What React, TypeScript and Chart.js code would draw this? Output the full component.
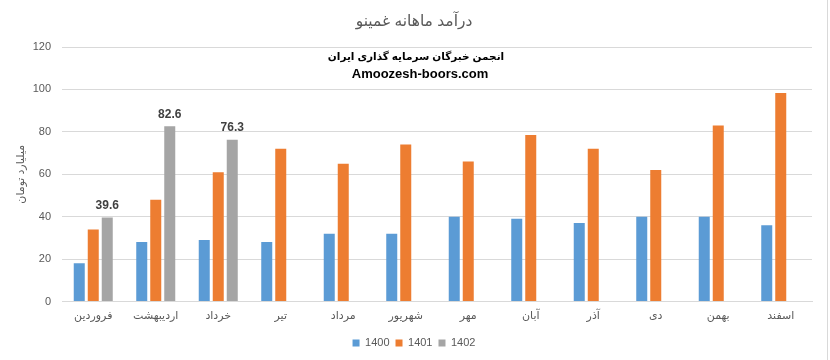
import React, { useEffect, useRef } from "react";
import { Chart, registerables } from "chart.js";

Chart.register(...registerables);

const months = [
  "فروردین",
  "اردیبهشت",
  "خرداد",
  "تیر",
  "مرداد",
  "شهریور",
  "مهر",
  "آبان",
  "آذر",
  "دی",
  "بهمن",
  "اسفند",
];

const values1400 = [18, 28, 29, 28, 32, 32, 40, 39, 37, 40, 40, 36];
const values1401 = [34, 48, 61, 72, 65, 74, 66, 78.5, 72, 62, 83, 98.3];
const values1402: (number | null)[] = [39.6, 82.6, 76.3, null, null, null, null, null, null, null, null, null];

const seriesNames = ["1400", "1401", "1402"];
const chartTitle = "درآمد ماهانه غمینو";
const yAxisTitle = "میلیارد تومان";
const watermarkLine1 = "انجمن خبرگان سرمایه گذاری ایران";
const watermarkLine2 = "Amoozesh-boors.com";

const FONT = '"Liberation Sans", "DejaVu Sans", sans-serif';

const labelPlugin = {
  id: "valueLabels",
  afterDatasetsDraw(chart: any) {
    const ctx = chart.ctx;
    const meta = chart.getDatasetMeta(2);
    const ds = chart.data.datasets[2];
    ctx.save();
    ctx.font = "bold 12px " + FONT;
    ctx.fillStyle = "#404040";
    ctx.textAlign = "center";
    ctx.textBaseline = "middle";
    meta.data.forEach((bar: any, i: number) => {
      const v = ds.data[i];
      if (v === null || v === undefined) return;
      ctx.fillText(String(v), bar.x, bar.y - 12);
    });
    ctx.restore();
  },
};

const decorPlugin = {
  id: "decor",
  afterDraw(chart: any) {
    const ctx = chart.ctx;
    const top = chart.chartArea.top;
    const cx = chart.width / 2;
    ctx.save();
    ctx.fillStyle = "#000000";
    ctx.textAlign = "center";
    ctx.textBaseline = "middle";
    ctx.font = "bold 10.5px " + FONT;
    ctx.fillText(watermarkLine1, cx + 1, top + 10.5);
    ctx.font = "bold 13px " + FONT;
    ctx.fillText(watermarkLine2, cx + 5, top + 27.5);
    ctx.strokeStyle = "#d9d9d9";
    ctx.lineWidth = 1;
    ctx.beginPath();
    ctx.moveTo(chart.width - 2.5, 0);
    ctx.lineTo(chart.width - 2.5, chart.height);
    ctx.stroke();
    ctx.restore();
  },
};

export default function App() {
  const ref = useRef<HTMLCanvasElement>(null);

  useEffect(() => {
    if (!ref.current) return;
    const chart = new Chart(ref.current, {
      type: "bar",
      data: {
        labels: months,
        datasets: [
          { label: seriesNames[0], data: values1400, backgroundColor: "#5B9BD5" },
          { label: seriesNames[1], data: values1401, backgroundColor: "#ED7D31" },
          { label: seriesNames[2], data: values1402, backgroundColor: "#A5A5A5" },
        ],
      },
      options: {
        animation: false,
        responsive: false,
        maintainAspectRatio: false,
        layout: { padding: { left: 16, right: 18, top: 0, bottom: 1.5 } },
        datasets: {
          bar: { categoryPercentage: 0.672, barPercentage: 0.786 },
        },
        plugins: {
          title: {
            display: true,
            text: chartTitle,
            color: "#595959",
            font: { family: FONT, size: 15.5, weight: "normal" },
            padding: { top: 12, bottom: 16.4 },
          },
          legend: {
            position: "bottom",
            labels: {
              boxWidth: 7,
              boxHeight: 7,
              color: "#595959",
              font: { family: FONT, size: 11 },
              padding: 6,
            },
          },
          tooltip: { enabled: false },
        },
        scales: {
          x: {
            grid: { display: false, drawTicks: false },
            border: { display: true, color: "#d9d9d9" },
            ticks: {
              color: "#595959",
              font: { family: FONT, size: 11 },
              padding: 8,
              maxRotation: 0,
              autoSkip: false,
            },
            afterFit: (scale: any) => {
              scale.height = 30;
            },
          },
          y: {
            min: 0,
            max: 120,
            ticks: {
              stepSize: 20,
              color: "#595959",
              font: { family: FONT, size: 11 },
              padding: 11,
            },
            grid: { color: "#d9d9d9", drawTicks: false },
            border: { display: false },
            title: {
              display: true,
              text: yAxisTitle,
              color: "#595959",
              font: { family: FONT, size: 11 },
              padding: { top: -2, bottom: 0 },
            },
            afterFit: (scale: any) => {
              scale.width = 46;
            },
          },
        },
      },
      plugins: [labelPlugin, decorPlugin],
    });
    return () => chart.destroy();
  }, []);

  return (
    <div style={{ position: "fixed", left: 0, top: 0, width: 830, height: 360, background: "#fff" }}>
      <canvas ref={ref} width={830} height={360} style={{ width: 830, height: 360, display: "block" }} />
    </div>
  );
}
